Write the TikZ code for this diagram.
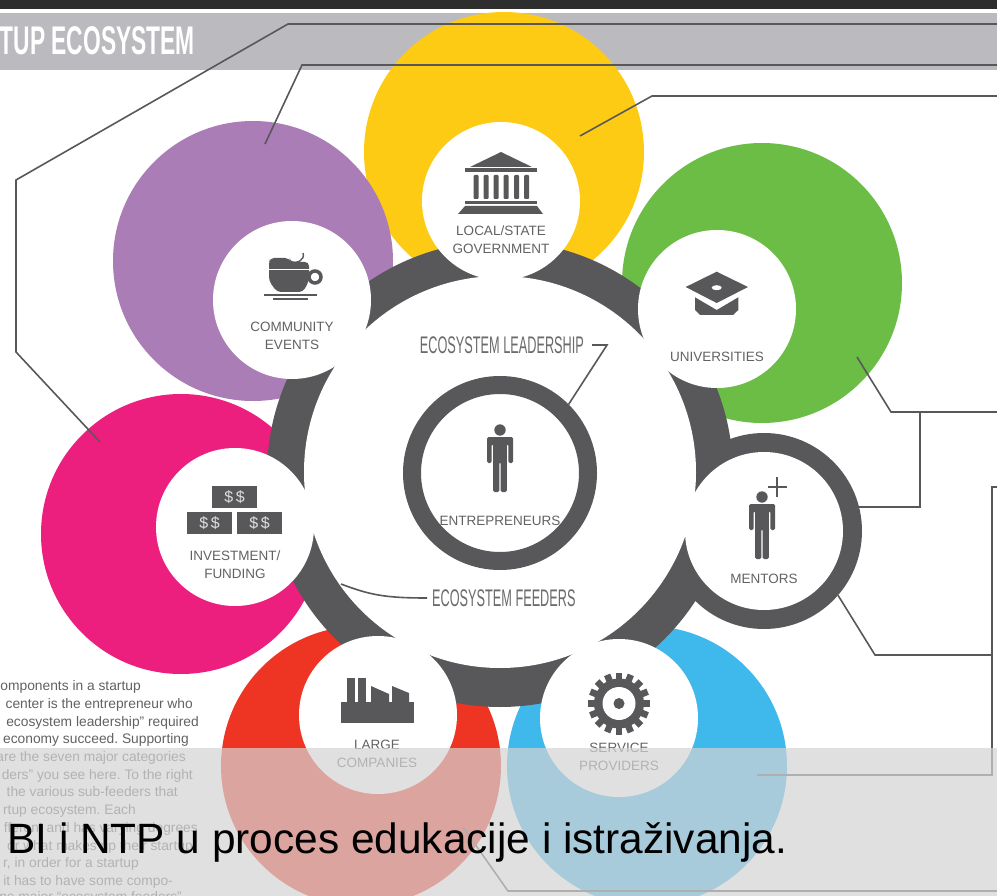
\documentclass[tikz,border=0pt]{standalone}
\usepackage{fontspec}
\setmainfont{Liberation Sans}
\usetikzlibrary{positioning}
\definecolor{iconcol}{HTML}{58585A}
\definecolor{labelcol}{HTML}{626264}
\definecolor{bandcol}{HTML}{BBBBBF}
\tikzset{
x=1pt, y=-1pt,
disc/.style={circle, inner sep=0pt, minimum size=280pt}, % the big coloured circles
whitedisc/.style={circle, fill=white, inner sep=0pt, minimum size=158pt}, % the circles that hold an icon
leader/.style={draw=iconcol, line width=1.6pt}, % thin connector lines
icon/.style={fill=iconcol},
disclabel/.style={text=labelcol, align=center, font=\fontsize{13.5}{18}\selectfont, inner sep=0pt},
narrowlabel/.style={text=black!58, font=\fontsize{24}{24}\selectfont, inner sep=0pt, xscale=.53, transform shape},
moneybox/.style={fill=iconcol, text=white!80!iconcol, minimum width=45pt, minimum height=22pt, inner sep=0pt, font=\fontsize{16}{16}\selectfont},
personicon/.pic={
    \fill[icon] (0,6) circle (5.7);
    \fill[icon, rounded corners=1.5pt] (-13,39) -- (-13,13) -- (13,13) -- (13,39) -- (8.4,39) -- (8.4,20) -- (6.8,20) -- (6.8,68) -- (0.6,68) -- (0.6,38) -- (-0.6,38) -- (-0.6,68) -- (-6.8,68) -- (-6.8,20) -- (-8.4,20) -- (-8.4,39) -- cycle;
},
}

\begin{document}
\begin{tikzpicture}
    \path[use as bounding box, clip] (0,0) rectangle (997,896);
    \fill[white] (0,0) rectangle (997,896);
    %% The header band
    \fill[black!82] (0,0) rectangle (997,9.5);
    \fill[bandcol] (0,13) rectangle (997,70);
    \node[text=white, font=\bfseries\fontsize{40}{40}\selectfont, inner sep=0pt, anchor=east, xscale=.57, transform shape] (headline) at (195,41) {TUP ECOSYSTEM};

    %% The seven coloured circles
    \node[disc, fill={rgb,255:red,253;green,203;blue,20}] (yellowdisc) at (504,152) {};
    \node[disc, fill={rgb,255:red,171;green,125;blue,182}] (purpledisc) at (253,261) {};
    \node[disc, fill={rgb,255:red,108;green,189;blue,69}] (greendisc) at (762,283) {};
    \node[disc, fill={rgb,255:red,237;green,31;blue,126}] (pinkdisc) at (181,534) {};
    \node[disc, fill={rgb,255:red,238;green,53;blue,36}] (reddisc) at (361,766) {};
    \node[disc, fill={rgb,255:red,63;green,184;blue,236}] (bluedisc) at (647,766) {};

    %% The dark ring, the mentor ring, the white centre and the inner ring
    \node[circle, fill=iconcol, inner sep=0pt, minimum size=466pt] (outerring) at (500,474) {};
    \node[circle, fill=iconcol, inner sep=0pt, minimum size=196pt] (mentorring) at (764,531) {};
    \node[circle, fill=white, inner sep=0pt, minimum size=392pt] (centredisc) at (500,472) {};
    \node[circle, draw=iconcol, line width=18pt, inner sep=0pt, minimum size=176pt] (corering) at (500,473) {};

    %% The connectors
    \coordinate (pinkend) at (100,442);
    \coordinate (purpleend) at (265,144);
    \coordinate (yellowend) at (580,136);
    \coordinate (greenend) at (857,357);
    \coordinate (blueend) at (757,775);
    \coordinate (redend) at (463,827);
    \coordinate (feederend) at (341,584);
    \draw[leader] (pinkend) -- (16,352) -- (16,180) -- (288,24) -- (997,24);
    \draw[leader] (purpleend) -- (302,65) -- (997,65);
    \draw[leader] (yellowend) -- (652,96) -- (997,96);
    \draw[leader] (greenend) -- (891,412) -- (997,412);
    \draw[leader] (920,412) |- (mentorring.14);
    \draw[leader] (997,487) -- (992,487) -- (992,775) -- (blueend);
    \draw[leader] (mentorring.-41) -- (875,655) -- (992,655);
    \draw[leader] (redend) -- (508,891) -- (997,891);

    %% The white circles
    \node[whitedisc] (govdisc) at (501,201) {};
    \node[whitedisc] (communitydisc) at (292,300) {};
    \node[whitedisc] (universitydisc) at (717,309) {};
    \node[whitedisc] (investdisc) at (235,527) {};
    \node[whitedisc] (largedisc) at (378,715) {};
    \node[whitedisc] (servicedisc) at (619,718) {};
    \node[whitedisc] (mentordisc) at (764,531) {};

    %% Building
    \fill[icon] (470,167) -- (501,152) -- (532,167) -- cycle;
    \fill[icon] (465,168) rectangle (537,172);
    \foreach \colx in {473.5,483.5,493.5,503.5,514,524}
        \fill[icon, rounded corners=1pt] (\colx,175) rectangle (\colx+5,199);
    \fill[icon] (465,201) rectangle (537,204);
    \fill[icon] (465,206) -- (537,206) -- (543,214) -- (458,214) -- cycle;
    \node[disclabel] (govtext) at (501,240) {LOCAL/STATE\\GOVERNMENT};

    %% Cup
    \fill[icon, rounded corners=4pt] (269,263) -- (270,258) -- (289,258) -- (291,262) -- (309,262) -- (309,281) -- (303,292) -- (277,292) -- (269,281) -- cycle;
    \draw[white, line width=1pt] (268,270) -- (310,270);
    \draw[iconcol, line width=3.5pt] (315,277) circle (6);
    \draw[iconcol, line width=1.4pt] (288,262) .. controls (298,264) and (305,260) .. (303,253);
    \fill[icon] (264,294.5) rectangle (317,296);
    \fill[icon] (273,298) rectangle (308,300);
    \node[disclabel] (communitytext) at (292,336) {COMMUNITY\\EVENTS};

    %% Graduation cap
    \fill[icon] (695,297.3) -- (716.7,310) -- (738.3,297.3) -- (738.3,310) -- (733,315) -- (700,315) -- (695,310) -- cycle;
    \fill[icon] (716.7,271.7) -- (748,287) -- (716.7,303) -- (685.7,287) -- cycle;
    \fill[white] (716.7,287.7) ellipse (5 and 2.5);
    \node[disclabel] (universitytext) at (717,357) {UNIVERSITIES};

    %% Money
    \node[moneybox] (moneytop) at (234.5,497) {\$\,\$};
    \node[moneybox] (moneyleft) at (209.5,523) {\$\,\$};
    \node[moneybox] (moneyright) at (259.5,523) {\$\,\$};
    \node[disclabel] (investtext) at (235,565) {INVESTMENT/\\FUNDING};

    %% Factory
    \fill[icon] (341,702) rectangle (414,723);
    \fill[icon] (347,678) rectangle (355,703);
    \fill[icon] (358,678) rectangle (366,703);
    \fill[icon] (371,686) -- (389,694) -- (389,703) -- (371,703) -- cycle;
    \fill[icon] (392,686) -- (409,693) -- (409,703) -- (392,703) -- cycle;
    \node[disclabel] (largetext) at (377,753.5) {LARGE\\COMPANIES};

    %% Gear
    \foreach \toothangle in {0,22.5,...,337.5}
        \fill[icon, shift={(619,703.5)}, rotate=\toothangle] (-3.3,-31) rectangle (3.3,0);
    \fill[icon] (619,703.5) circle (25);
    \fill[white] (619,703.5) circle (16.5);
    \fill[icon] (619,703.5) circle (5.5);
    \node[disclabel] (servicetext) at (619,757) {SERVICE\\PROVIDERS};

    %% People
    \pic at (500,424) {personicon};
    \node[disclabel] (entrepreneurtext) at (500,521) {ENTREPRENEURS};
    \pic at (762,491) {personicon};
    \draw[iconcol, line width=1.3pt] (768,487) -- (787,487);
    \draw[iconcol, line width=1.3pt] (777,477) -- (777,497);
    \node[disclabel] (mentortext) at (764,579) {MENTORS};

    %% The two big labels and their lines
    \node[narrowlabel, anchor=east] (leadertext) at (584,345) {ECOSYSTEM LEADERSHIP};
    \draw[leader] (592,345) -- (607,345) -- (corering.45);
    \node[narrowlabel, anchor=west] (feedertext) at (432,598) {ECOSYSTEM FEEDERS};
    \draw[leader] (feederend) .. controls (370,595) and (385,598) .. (427,598);

    %% The paragraph on the left
    \foreach \ypos/\xend/\linetext in {690/141/{omponents in a startup},
        708/193/{center is the entrepreneur who},
        726/199/{ecosystem leadership” required},
        743/189/{economy succeed. Supporting},
        761/186/{are the seven major categories},
        779/193/{ders” you see here. To the right},
        796/178/{the various sub-feeders that},
        814/136/{rtup ecosystem. Each},
        832/198/{fferent and has varying degrees},
        850/193/{or what makes up their startup},
        867/139/{r, in order for a startup},
        885/173/{it has to have some compo-},
        901/182/{ne major “ecosystem feeders”}}
        \node[text=labelcol, font=\frenchspacing\fontsize{13.8}{14}\selectfont, inner sep=0pt, anchor=base east, name=para\ypos] at (\xend,\ypos) {\linetext};

    %% The band over the lower part, with the caption on top of it
    \fill[black!17, opacity=.7] (0,748) rectangle (997,896);
    \node[font=\fontsize{42.4}{42}\selectfont, text=black, inner sep=0pt, anchor=base west] (captiontext) at (7,853) {BI i NTP u proces edukacije i istraživanja.};
\end{tikzpicture}
\end{document}
